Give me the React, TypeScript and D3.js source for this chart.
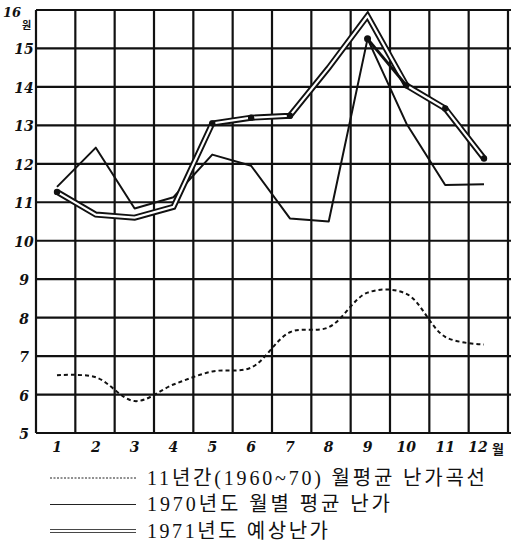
import React from "react";
import * as d3 from "d3";

const months = [1, 2, 3, 4, 5, 6, 7, 8, 9, 10, 11, 12];
const monthLabels = ["1", "2", "3", "4", "5", "6", "7", "8", "9", "10", "11", "12"];
const yTicks = [5, 6, 7, 8, 9, 10, 11, 12, 13, 14, 15, 16];

// 11년간(1960~70) 월평균 난가곡선
const avg11 = [6.5, 6.45, 5.83, 6.26, 6.6, 6.7, 7.62, 7.75, 8.65, 8.62, 7.5, 7.3];
// 1970년도 월별 평균 난가
const y1970 = [11.4, 12.42, 10.84, 11.13, 12.24, 11.95, 10.58, 10.5, 15.25, 13.05, 11.45, 11.47];
// 1971년도 예상난가
const y1971 = [11.27, 10.68, 10.6, 10.88, 13.05, 13.2, 13.25, 14.5, 15.85, 14.04, 13.44, 12.14];
// marked points on the forecast line
const forecastDotMonths = [1, 5, 6, 7, 10, 11, 12];
const peakMarkMonths = [9, 10];
const peakMarkValues = [15.25, 14.04];

const legendItems = [
  { label: "11년간(1960~70) 월평균 난가곡선", kind: "dash", len: 338 },
  { label: "1970년도 월별 평균 난가", kind: "solid", len: 243 },
  { label: "1971년도 예상난가", kind: "double", len: 181 },
];

const W = 511;
const H = 545;

export default function App() {
  const grid = d3.scaleBand<number>().domain(months).range([36, 508]);
  const x = d3.scalePoint<number>().domain(months).range([57, 484]);
  const y = d3.scaleLinear().domain([5, 16]).range([433, 10]);

  const lineStraight = d3
    .line<number>()
    .x((_, i) => x(months[i]) as number)
    .y((v) => y(v));
  const lineCurve = d3
    .line<number>()
    .x((_, i) => x(months[i]) as number)
    .y((v) => y(v))
    .curve(d3.curveCatmullRom.alpha(0.5));
  const peakLine = d3
    .line<number>()
    .x((_, i) => x(peakMarkMonths[i]) as number)
    .y((v) => y(v));

  const gridXs = months.map((m) => grid(m) as number).concat([508]);
  const font = "'Liberation Serif', 'Noto Sans CJK KR', serif";
  const handFont = "'DejaVu Serif', serif";

  return (
    <svg width={W} height={H} style={{ position: "absolute", left: 0, top: 0, background: "#fff" }}>
      <rect width={W} height={H} fill="#fff" />
      {/* grid */}
      <g stroke="#111" strokeWidth={2.2}>
        {yTicks.map((t) => (
          <line key={"h" + t} x1={36} x2={511} y1={y(t)} y2={y(t)} />
        ))}
        {gridXs.map((gx, i) => (
          <line key={"v" + i} x1={gx} x2={gx} y1={y(16)} y2={y(5)} />
        ))}
      </g>
      {/* y tick labels */}
      <g fontFamily={handFont} fontStyle="italic" fontWeight="bold" fontSize={14} fill="#111">
        {yTicks
          .filter((t) => t < 16)
          .map((t) => (
            <text key={"yl" + t} x={24} y={y(t) + 6} textAnchor="middle">
              {t}
            </text>
          ))}
        <text x={3} y={17} fontSize={13}>16</text>
        <text x={22} y={29} fontSize={10} fontFamily="'Noto Sans CJK KR'" fontStyle="normal">원</text>
      </g>
      {/* x tick labels */}
      <g fontFamily={handFont} fontStyle="italic" fontWeight="bold" fontSize={14} fill="#111">
        {monthLabels.map((l, i) => (
          <text key={"xl" + l} x={(x(months[i]) as number) - (i === 11 ? 6 : 0)} y={452} textAnchor="middle">
            {l}
          </text>
        ))}
        <text x={492} y={454} fontSize={13} fontFamily="'Noto Sans CJK KR'" fontStyle="normal" fontWeight="bold">월</text>
      </g>
      {/* 11-year average dashed curve */}
      <path d={lineCurve(avg11) || ""} fill="none" stroke="#111" strokeWidth={2} strokeDasharray="4,3" />
      {/* 1970 solid */}
      <path d={lineStraight(y1970) || ""} fill="none" stroke="#111" strokeWidth={2} strokeLinejoin="round" />
      {/* 1971 double */}
      <path d={lineStraight(y1971) || ""} fill="none" stroke="#111" strokeWidth={6} strokeLinejoin="miter" />
      <path d={lineStraight(y1971) || ""} fill="none" stroke="#fff" strokeWidth={2.2} strokeLinejoin="miter" />
      <path d={peakLine(peakMarkValues) || ""} fill="none" stroke="#111" strokeWidth={3} />
      {forecastDotMonths.map((m) => (
        <circle key={"d" + m} cx={x(m) as number} cy={y(y1971[m - 1])} r={3.2} fill="#111" />
      ))}
      <circle cx={x(9) as number} cy={y(peakMarkValues[0])} r={3.5} fill="#111" />
      {/* legend */}
      {legendItems.map((it, i) => {
        const ly = 478 + i * 26.5;
        return (
          <g key={"lg" + i}>
            {it.kind === "dash" && (
              <line x1={50} x2={136} y1={ly} y2={ly} stroke="#222" strokeWidth={1} strokeDasharray="2,1.5" />
            )}
            {it.kind === "solid" && <line x1={50} x2={136} y1={ly} y2={ly} stroke="#222" strokeWidth={1.2} />}
            {it.kind === "double" && (
              <g stroke="#333" strokeWidth={0.9}>
                <line x1={50} x2={136} y1={ly - 1.5} y2={ly - 1.5} />
                <line x1={50} x2={136} y1={ly + 1.5} y2={ly + 1.5} />
              </g>
            )}
            <text
              x={147}
              y={ly + 6.5}
              fontFamily={font}
              fontSize={20}
              fill="#111"
              textLength={it.len}
              lengthAdjust="spacing"
            >
              {it.label}
            </text>
          </g>
        );
      })}
    </svg>
  );
}
